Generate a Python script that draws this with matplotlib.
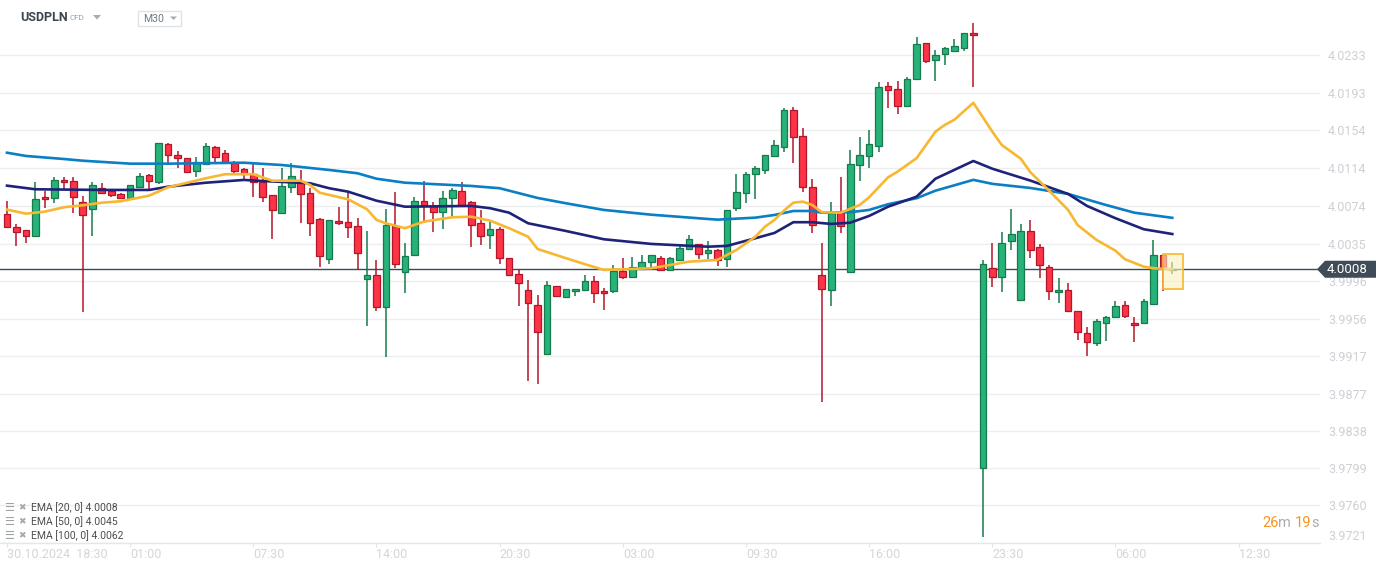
import matplotlib
matplotlib.use('Agg')
import matplotlib.pyplot as plt
from matplotlib.patches import Polygon, Rectangle
from matplotlib.transforms import IdentityTransform
import numpy as np

plt.rcParams['font.family'] = ['Roboto', 'DejaVu Sans']

# ---------------- data ----------------
symbol = 'USDPLN'
instrument_type = 'CFD'
timeframe = 'M30'

opens = [4.00658, 4.00521, 4.00490, 4.00427, 4.00836, 4.00826, 4.01015, 4.01004, 4.00784, 4.00710,
         4.00931, 4.00899, 4.00868, 4.00826, 4.00947, 4.01067, 4.00994, 4.01393, 4.01277, 4.01246,
         4.01109, 4.01183, 4.01361, 4.01298, 4.01196, 4.01130, 4.01081, 4.01000, 4.00857, 4.00674,
         4.00941, 4.01010, 4.00878, 4.00605, 4.00185, 4.00584, 4.00574, 4.00532, 3.99975, 4.00017,
         3.99681, 4.00532, 4.00049, 4.00227, 4.00794, 4.00748, 4.00679, 4.00826, 4.00899, 4.00784,
         4.00563, 4.00437, 4.00500, 4.00196, 4.00028, 3.99860, 3.99702, 3.99188, 3.99902, 3.99786,
         3.99849, 3.99860, 3.99954, 3.99849, 3.99849, 4.00059, 3.99996, 4.00080, 4.00154, 4.00196,
         4.00070, 4.00175, 4.00290, 4.00343, 4.00248, 4.00280, 4.00185, 4.00721, 4.00878, 4.01078,
         4.01120, 4.01267, 4.01361, 4.01750, 4.01477, 4.00941, 4.00017, 3.99860, 4.00668, 4.00049,
         4.01172, 4.01267, 4.01372, 4.02002, 4.01970, 4.01792, 4.02075, 4.02453, 4.02275, 4.02339,
         4.02377, 4.02400, 4.02559, 3.97994, 4.00097, 3.99997, 4.00373, 3.99757, 4.00480, 4.00312,
         4.00100, 3.99840, 3.99860, 3.99639, 3.99408, 3.99303, 3.99513, 3.99576, 3.99702, 3.99513,
         3.99513, 3.99713, 4.00227, 4.00076]
highs = [4.00797, 4.00553, 4.00490, 4.00997, 4.00905, 4.01049, 4.01049, 4.01049, 4.00850, 4.00997,
         4.00983, 4.00905, 4.00878, 4.00962, 4.01088, 4.01078, 4.01409, 4.01403, 4.01322, 4.01246,
         4.01259, 4.01403, 4.01378, 4.01333, 4.01217, 4.01147, 4.01183, 4.01141, 4.00857, 4.01141,
         4.01193, 4.01123, 4.00931, 4.00616, 4.00598, 4.00731, 4.00895, 4.00616, 4.00482, 4.00178,
         4.00710, 4.00892, 4.00353, 4.00839, 4.01004, 4.00790, 4.00902, 4.00931, 4.00994, 4.00794,
         4.00703, 4.00590, 4.00521, 4.00196, 4.00080, 3.99968, 3.99807, 3.99954, 3.99902, 3.99870,
         3.99873, 4.00017, 4.00007, 3.99881, 4.00122, 4.00196, 4.00206, 4.00230, 4.00230, 4.00217,
         4.00206, 4.00343, 4.00437, 4.00343, 4.00380, 4.00290, 4.00700, 4.01081, 4.01099, 4.01165,
         4.01277, 4.01438, 4.01774, 4.01784, 4.01561, 4.01025, 4.00353, 4.00784, 4.01046, 4.01330,
         4.01469, 4.01540, 4.02044, 4.02044, 4.02054, 4.02096, 4.02516, 4.02453, 4.02380, 4.02413,
         4.02498, 4.02562, 4.02665, 4.00175, 4.00352, 4.00470, 4.00714, 4.00555, 4.00597, 4.00346,
         4.00123, 3.99989, 3.99933, 3.99639, 3.99474, 3.99555, 3.99590, 3.99747, 3.99747, 3.99579,
         3.99765, 4.00388, 4.00227, 4.00157]
lows = [4.00517, 4.00328, 4.00359, 4.00427, 4.00724, 4.00779, 4.00923, 4.00674, 3.99635, 4.00433,
        4.00878, 4.00842, 4.00826, 4.00826, 4.00947, 4.00905, 4.00973, 4.01199, 4.01141, 4.01099,
        4.01052, 4.01183, 4.01204, 4.01204, 4.01084, 4.01025, 4.00842, 4.00790, 4.00401, 4.00664,
        4.00878, 4.00569, 4.00433, 4.00107, 4.00139, 4.00548, 4.00412, 4.00073, 3.99488, 3.99645,
        3.99162, 4.00097, 3.99834, 4.00227, 4.00569, 4.00475, 4.00506, 4.00632, 4.00758, 4.00317,
        4.00335, 4.00293, 4.00139, 4.00017, 3.99698, 3.98910, 3.98873, 3.99188, 3.99797, 3.99786,
        3.99803, 3.99860, 3.99729, 3.99656, 3.99828, 3.99975, 3.99996, 4.00080, 4.00070, 4.00070,
        4.00070, 4.00164, 4.00290, 4.00185, 4.00185, 4.00118, 4.00107, 4.00692, 4.00779, 4.00818,
        4.01081, 4.01267, 4.01309, 4.01199, 4.00895, 4.00464, 3.98690, 3.99698, 4.00464, 4.00049,
        4.01010, 4.01147, 4.01309, 4.01777, 4.01714, 4.01792, 4.02075, 4.02243, 4.02060, 4.02228,
        4.02377, 4.02374, 4.01998, 3.97269, 3.99898, 3.99842, 4.00278, 3.99757, 4.00203, 3.99983,
        3.99762, 3.99721, 3.99639, 3.99341, 3.99173, 3.99278, 3.99330, 3.99576, 3.99566, 3.99320,
        3.99513, 3.99713, 3.99849, 4.00028]
closes = [4.00527, 4.00469, 4.00427, 4.00815, 4.00815, 4.01015, 4.00994, 4.00836, 4.00647, 4.00962,
          4.00878, 4.00857, 4.00826, 4.00962, 4.01057, 4.01004, 4.01409, 4.01277, 4.01246, 4.01099,
          4.01204, 4.01372, 4.01256, 4.01204, 4.01109, 4.01078, 4.00994, 4.00836, 4.00700, 4.00952,
          4.01057, 4.00868, 4.00563, 4.00217, 4.00595, 4.00563, 4.00527, 4.00248, 4.00017, 3.99681,
          4.00542, 4.00133, 4.00217, 4.00794, 4.00752, 4.00679, 4.00826, 4.00910, 4.00758, 4.00542,
          4.00427, 4.00500, 4.00196, 4.00017, 3.99933, 3.99723, 3.99419, 3.99912, 3.99797, 3.99870,
          3.99870, 3.99954, 3.99828, 3.99828, 4.00059, 3.99996, 4.00101, 4.00154, 4.00227, 4.00070,
          4.00196, 4.00301, 4.00395, 4.00238, 4.00280, 4.00178, 4.00700, 4.00889, 4.01078, 4.01141,
          4.01277, 4.01382, 4.01750, 4.01466, 4.00941, 4.00542, 3.99870, 4.00668, 4.00532, 4.01183,
          4.01277, 4.01393, 4.01991, 4.01960, 4.01792, 4.02075, 4.02443, 4.02264, 4.02327, 4.02400,
          4.02421, 4.02562, 4.02537, 4.00133, 3.99997, 4.00352, 4.00448, 4.00480, 4.00282, 4.00120,
          3.99848, 3.99860, 3.99639, 3.99419, 3.99314, 3.99534, 3.99576, 3.99692, 3.99587, 3.99492,
          3.99744, 4.00227, 4.00104, 4.00080]

ema20_idx = [0, 2, 4, 6, 8, 10, 12, 15, 17, 21, 23, 26, 28, 31, 32, 33, 36, 38, 39, 40,
             42, 44, 47, 49, 51, 53, 55, 56, 59, 61, 63, 65, 68, 70, 72, 75, 77, 79, 80, 81,
             82, 83, 84, 85, 86, 88, 90, 91, 93, 94, 96, 97, 98, 99, 100, 102, 104, 105, 107, 108,
             110, 112, 113, 115, 117, 118, 120, 121, 123]
ema20_val = [4.00706, 4.00664, 4.00685, 4.00731, 4.00752, 4.00779, 4.00794, 4.00853, 4.00941, 4.01036,
             4.01078, 4.01078, 4.01010, 4.01010, 4.00965, 4.00884, 4.00815, 4.00710, 4.00598, 4.00563,
             4.00511, 4.00580, 4.00626, 4.00632, 4.00590, 4.00511, 4.00422, 4.00293, 4.00196, 4.00133,
             4.00073, 4.00080, 4.00091, 4.00125, 4.00160, 4.00178, 4.00283, 4.00422, 4.00527, 4.00598,
             4.00695, 4.00779, 4.00790, 4.00755, 4.00679, 4.00674, 4.00755, 4.00836, 4.01046, 4.01105,
             4.01246, 4.01385, 4.01525, 4.01597, 4.01651, 4.01828, 4.01526, 4.01385, 4.01242, 4.01101,
             4.00905, 4.00703, 4.00545, 4.00388, 4.00275, 4.00185, 4.00107, 4.00091, 4.00080]
ema50_idx = [0, 3, 10, 15, 17, 21, 25, 27, 32, 34, 36, 39, 42, 49, 51, 53, 55, 59, 63, 68,
             74, 76, 79, 81, 83, 85, 87, 89, 91, 93, 96, 98, 102, 104, 108, 112, 114, 117, 120, 123]
ema50_val = [4.00958, 4.00920, 4.00913, 4.00913, 4.00947, 4.00989, 4.01018, 4.01007, 4.00983, 4.00931,
             4.00895, 4.00800, 4.00737, 4.00745, 4.00721, 4.00674, 4.00563, 4.00482, 4.00395, 4.00346,
             4.00317, 4.00325, 4.00406, 4.00461, 4.00574, 4.00574, 4.00556, 4.00569, 4.00640, 4.00737,
             4.00842, 4.01031, 4.01217, 4.01136, 4.01012, 4.00871, 4.00745, 4.00616, 4.00500, 4.00450]
ema100_idx = [0, 2, 6, 8, 13, 17, 25, 29, 34, 37, 39, 42, 49, 52, 56, 59, 63, 68, 74, 75,
              79, 81, 83, 85, 86, 89, 91, 93, 96, 98, 102, 104, 108, 112, 116, 119, 123]
ema100_val = [4.01304, 4.01270, 4.01238, 4.01220, 4.01189, 4.01189, 4.01199, 4.01175, 4.01123, 4.01088,
              4.01031, 4.00989, 4.00955, 4.00931, 4.00829, 4.00773, 4.00703, 4.00653, 4.00608, 4.00601,
              4.00622, 4.00650, 4.00692, 4.00692, 4.00674, 4.00679, 4.00703, 4.00763, 4.00826, 4.00905,
              4.01019, 4.00977, 4.00934, 4.00871, 4.00755, 4.00674, 4.00620]

xtick_idx = [0, 13, 26, 39, 52, 65, 78, 91, 104, 117, 130]
xtick_labels = ['30.10.2024  18:30', '01:00', '07:30', '14:00', '20:30', '03:00',
                '09:30', '16:00', '23:30', '06:00', '12:30']
ytick_labels = ['3.9721', '3.9760', '3.9799', '3.9838', '3.9877', '3.9917', '3.9956',
                '3.9996', '4.0035', '4.0074', '4.0114', '4.0154', '4.0193', '4.0233']
legend_labels = ['EMA [20, 0] 4.0008', 'EMA [50, 0] 4.0045', 'EMA [100, 0] 4.0062']
last_price = 4.0008
last_price_label = '4.0008'
countdown_parts = ['26', 'm', '19', 's']

# ---------------- style ----------------
W, H = 1388, 568
GREEN, GREEN_EDGE = '#26b278', '#177a4c'
RED, RED_EDGE = '#fc3446', '#b3162a'
C_EMA20, C_EMA50, C_EMA100 = '#f7b731', '#1e2379', '#0a7fc3'
GRID = '#eceef0'
LABEL = '#cdd1d5'

fig = plt.figure(figsize=(W / 100, H / 100), dpi=100)
fig.patch.set_facecolor('white')
ax = fig.add_axes([0, 25.5 / H, 1320 / W, 542.5 / H])
ax.set_facecolor('white')

n = len(opens)
idx = np.arange(n)
o, h, l, c = map(np.array, (opens, highs, lows, closes))
up = c >= o
bb = np.minimum(o, c)
bh = np.maximum(np.abs(c - o), 0.00001)

ax.axhline(last_price, color='#3d4953', lw=1.0, zorder=1.5)

ax.vlines(idx[up], l[up], h[up], color=GREEN_EDGE, lw=1.1, zorder=2)
ax.vlines(idx[~up], l[~up], h[~up], color=RED_EDGE, lw=1.1, zorder=2)
ax.bar(idx[up], bh[up], bottom=bb[up], width=0.7, color=GREEN, edgecolor=GREEN_EDGE,
       linewidth=0.9, zorder=3)
ax.bar(idx[~up], bh[~up], bottom=bb[~up], width=0.7, color=RED, edgecolor=RED_EDGE,
       linewidth=0.9, zorder=3)

ax.plot(ema100_idx, ema100_val, color=C_EMA100, lw=1.9, zorder=4, solid_joinstyle='round')
ax.plot(ema50_idx, ema50_val, color=C_EMA50, lw=1.9, zorder=4, solid_joinstyle='round')
ax.plot(ema20_idx, ema20_val, color=C_EMA20, lw=1.9, zorder=4, solid_joinstyle='round')

# highlight box around current candle
li = n - 1
ax.add_patch(Rectangle((li - 1.0, last_price - 0.0021), 2.1, 0.00368,
                       facecolor='#fbf0c0', alpha=0.6, edgecolor='none', zorder=5))
ax.add_patch(Rectangle((li - 1.0, last_price - 0.0021), 2.1, 0.00368,
                       facecolor='none', edgecolor='#f5b82e', lw=1.2, zorder=5.1))

ax.set_xlim(-0.739, 138.59)
ax.set_ylim(3.97212, 4.02908)

for s in ('left', 'top', 'right'):
    ax.spines[s].set_visible(False)
ax.spines['bottom'].set_color('#e4e7ea')
ax.spines['bottom'].set_linewidth(1.0)

yvals = [float(s) for s in ytick_labels]
ax.yaxis.tick_right()
ax.set_yticks(yvals)
ax.set_yticklabels(ytick_labels)
ax.tick_params(axis='y', length=0, pad=5.8, labelsize=9, labelcolor=LABEL)
ax.get_yticklabels()[0].set_verticalalignment('bottom')
ax.yaxis.grid(True, color=GRID, lw=1.0)
ax.set_axisbelow(True)

ax.set_xticks(xtick_idx)
ax.set_xticklabels(xtick_labels)
for t in ax.get_xticklabels():
    t.set_horizontalalignment('left')
ax.tick_params(axis='x', length=3, width=0.8, color='#e4e7ea', labelsize=9,
               labelcolor='#d3d6d9', pad=0.8)

# price label on the right
fig.canvas.draw()
yd = ax.transData.transform((0, last_price))[1]
poly = Polygon([(1317, yd), (1325, yd + 8.5), (1376, yd + 8.5), (1376, yd - 8.5), (1325, yd - 8.5)],
               closed=True, facecolor='#3f4c57', edgecolor='none', transform=IdentityTransform())
fig.add_artist(poly)
fig.text(1347 / W, yd / H, last_price_label, color='white', fontsize=9.5,
         ha='center', va='center')


def ptext(x, y, s, **kw):
    return fig.text(x / W, 1 - y / H, s, **kw)


def ppoly(pts, color):
    fig.add_artist(Polygon([(x, H - y) for x, y in pts], closed=True, facecolor=color,
                           edgecolor='none', transform=IdentityTransform()))


# header
ptext(20, 17.5, symbol, fontsize=9, fontweight='bold', color='#3b4650', va='center')
ptext(69.5, 18.5, instrument_type, fontsize=5.8, color='#98a0a8', va='center')
ppoly([(93, 15), (101, 15), (97, 19.5)], '#a4abb2')
fig.add_artist(Rectangle((137.5, H - 26), 43.5, 15, facecolor='white', edgecolor='#dfe2e5',
                         lw=1.0, transform=IdentityTransform()))
ptext(143, 18.5, timeframe, fontsize=7.5, color='#6d7882', va='center')
ppoly([(170, 16.5), (177, 16.5), (173.5, 20)], '#a4abb2')

# legend
for k, lab in enumerate(legend_labels):
    y = 508 + 14 * k
    ptext(4, y, '\u2630', fontsize=8, color='#9ea3a8', va='center')
    ptext(18.5, y, '\u2716', fontsize=6.5, color='#a3a9ae', va='center')
    ptext(31, y, lab, fontsize=7.5, color='#4d4d4d', va='center')

# countdown
renderer = fig.canvas.get_renderer()
x = 1262
cols = ['#f7941d', '#a8adb3', '#f7941d', '#a8adb3']
gaps = [0, 0, 3.5, 0]
for part, col, g in zip(countdown_parts, cols, gaps):
    x += g
    t = ptext(x, 523, part, fontsize=10.5, color=col, va='center', ha='left')
    x += t.get_window_extent(renderer).width

fig.savefig('out.png', dpi=100, facecolor='white')
